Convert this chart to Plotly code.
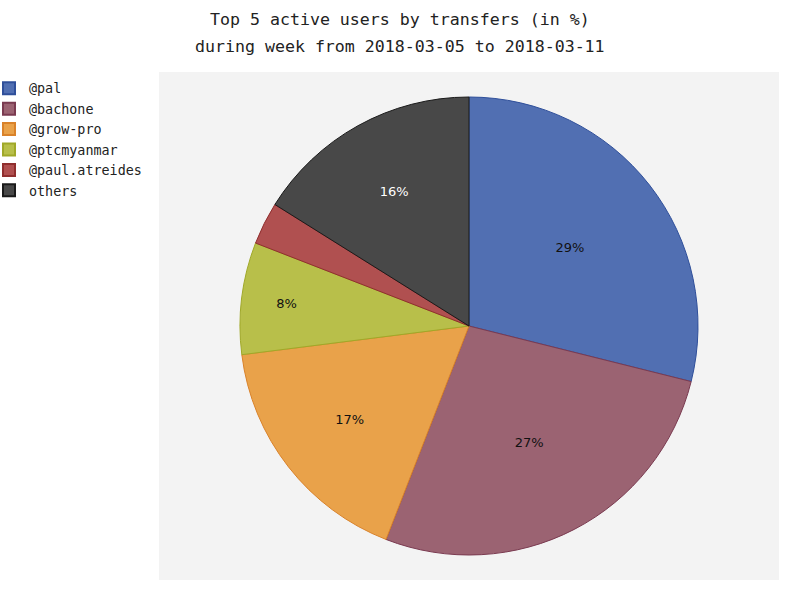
import plotly.graph_objects as go

users = ["@pal", "@bachone", "@grow-pro", "@ptcmyanmar", "@paul.atreides", "others"]
shares = [28.9, 27.0, 17.1, 7.9, 3.0, 16.1]
colors = ["#516fb2", "#9b6372", "#e9a24a", "#b8bf4a", "#b05050", "#484848"]
borders = ["#2f4f9a", "#7a3a50", "#d9822a", "#a0a828", "#902e2e", "#1a1a1a"]
label_colors = ["#111111", "#111111", "#111111", "#111111", "#111111", "#ffffff"]
title_line1 = "Top 5 active users by transfers (in %)"
title_line2 = "during week from 2018-03-05 to 2018-03-11"

labels_text = [f"{round(v)}%" if v >= 5 else "" for v in shares]

W, H = 800, 600
cx, cy, r = 469, 326, 229

fig = go.Figure(go.Pie(
    labels=users,
    values=shares,
    text=labels_text,
    textinfo="text",
    textposition="inside",
    insidetextorientation="horizontal",
    textfont=dict(family="DejaVu Sans", size=13, color=label_colors),
    marker=dict(colors=colors, line=dict(color=borders, width=1)),
    sort=False,
    direction="clockwise",
    rotation=0,
    hole=0,
    domain=dict(x=[(cx - r) / W, (cx + r) / W], y=[1 - (cy + r) / H, 1 - (cy - r) / H]),
))

title_font = dict(family="DejaVu Sans Mono", size=16.6, color="#222222")
fig.update_layout(
    width=W, height=H,
    margin=dict(l=0, r=0, t=0, b=0, autoexpand=False),
    paper_bgcolor="white",
    annotations=[
        dict(text=title_line1, xref="paper", yref="paper", x=0.5, y=1 - 20 / H,
             xanchor="center", yanchor="middle", showarrow=False, font=title_font),
        dict(text=title_line2, xref="paper", yref="paper", x=0.5, y=1 - 46 / H,
             xanchor="center", yanchor="middle", showarrow=False, font=title_font),
    ],
    legend=dict(
        x=-11 / W, y=1 - 73 / H, xanchor="left", yanchor="top",
        font=dict(family="DejaVu Sans Mono", size=13.4, color="#222222"),
        itemsizing="constant", traceorder="normal",
        bgcolor="rgba(0,0,0,0)",
    ),
    shapes=[dict(
        type="rect", xref="paper", yref="paper",
        x0=159 / W, x1=779 / W, y0=1 - 580 / H, y1=1 - 72 / H,
        fillcolor="#f3f3f3", line=dict(width=0), layer="below",
    )],
)

fig.write_html("out.html", config={"displayModeBar": False},
               post_script="document.body.style.margin='0px';")
